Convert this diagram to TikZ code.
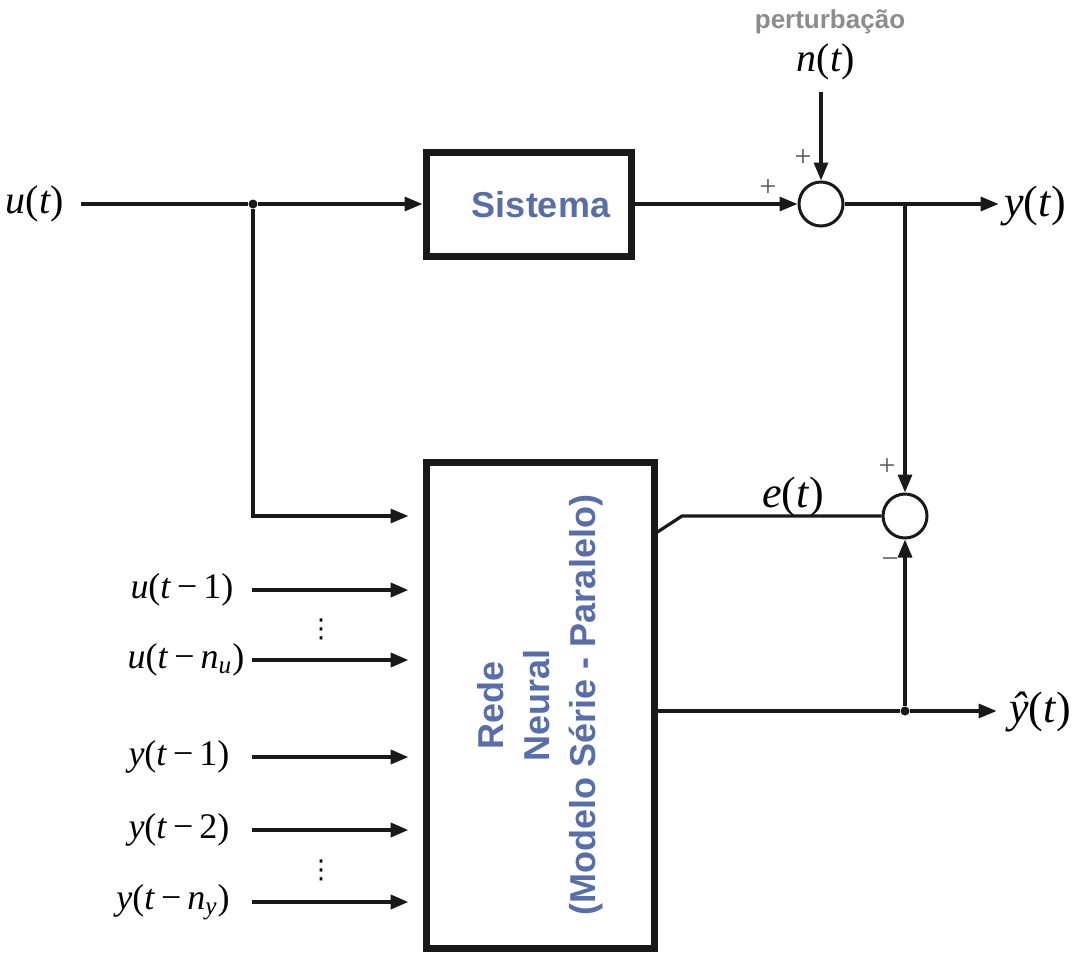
\documentclass[tikz,border=0pt]{standalone}
\usepackage{fontspec}
\setmainfont{Liberation Serif}
\newfontfamily\arial{Liberation Sans}
\newfontfamily\dejavu{DejaVu Sans}
\usetikzlibrary{arrows.meta,calc}
\definecolor{blk}{RGB}{25,25,25}
\definecolor{bluetxt}{RGB}{88,110,170}
\definecolor{graytxt}{RGB}{140,140,140}
\tikzset{
  wire/.style={line width=1.6pt, draw=blk},
  arr/.style={wire, -{Triangle[length=9pt,width=7pt]}},
  inarr/.style={arr, line width=2pt},
  blockbox/.style={draw=blk, line width=3.5pt, inner sep=0pt, fill=white},
  sumnode/.style={circle, draw=blk, line width=1.5pt, minimum size=22pt, inner sep=0pt},
  jdot/.style={circle, fill=blk, minimum size=4.5pt, inner sep=0pt},
  lblA/.style={font=\fontsize{18}{20}\selectfont, inner sep=0pt},
  lblB/.style={font=\fontsize{20}{22}\selectfont, inner sep=0pt},
  lblC/.style={font=\fontsize{22}{24}\selectfont, inner sep=0pt},
  sign/.style={font=\fontsize{15}{16}\selectfont, text=blk!75, inner sep=0pt},
  vdts/.style={font=\dejavu\fontsize{13}{14}\selectfont, inner sep=0pt},
  bluelbl/.style={text=bluetxt, font=\arial\bfseries\fontsize{18}{23}\selectfont},
}
\begin{document}
\begin{tikzpicture}[x=0.5pt,y=-0.5pt]
\useasboundingbox (0,0) rectangle (1080,953);

% blocks
\node[blockbox, minimum width=102.5pt, minimum height=52pt] (sys) at (528.5,204) {};
\node[bluelbl] (systxt) at (541,205) {Sistema};
\node[blockbox, minimum width=114pt, minimum height=243pt] (nn) at (540,705) {};
\node[bluelbl, rotate=90, align=center] (nntxt) at (nn.center) {Rede\\Neural\\(Modelo Série - Paralelo)};

% summing junctions
\node[sumnode] (s1) at (821,204) {};
\node[sumnode] (s2) at (905,516) {};

% labels
\node[lblB] (ut) at (35,204) {\textit{u}(\textit{t})};
\node[font=\arial\bfseries\fontsize{13}{15}\selectfont, text=graytxt] (pert) at (830,22) {perturbação};
\node[lblB] (nt) at (826,62) {\textit{n}(\textit{t})};
\node[lblC] (yt) at (1035,206) {\textit{y}(\textit{t})};
\node[lblC] (et) at (793,497) {\textit{e}(\textit{t})};
\node[lblC] (yhat) at (1040,712) {\textit{ŷ}(\textit{t})};

\node[sign] (p1) at (803,158) {+};
\node[sign] (p2) at (768,188) {+};
\node[sign] (p3) at (887,467) {+};
\node[sign] (m1) at (890,563) {−};

% input labels
\node[lblA] (l1) at (182,590) {\textit{u}(\textit{t}\,−\,1)};
\node[lblA] (l2) at (186,660) {\textit{u}(\textit{t}\,−\,\textit{n}\textsubscript{\textit{u}})};
\node[lblA] (l3) at (179,757) {\textit{y}(\textit{t}\,−\,1)};
\node[lblA] (l4) at (179,830) {\textit{y}(\textit{t}\,−\,2)};
\node[lblA] (l5) at (173,902) {\textit{y}(\textit{t}\,−\,\textit{n}\textsubscript{\textit{y}})};
\node[vdts] (d1) at (321,629) {⋮};
\node[vdts] (d2) at (321,870) {⋮};

% coordinates
\node[jdot] (j1) at (253,204) {};
\node[jdot] (j2) at (905,711) {};
\coordinate (ntop) at (821,92);
\coordinate (ebend) at (682,516);
\coordinate (a0) at (253,516);
\coordinate (a1) at (252,590);
\coordinate (a2) at (252,660);
\coordinate (a3) at (252,757);
\coordinate (a4) at (252,830);
\coordinate (a5) at (252,902);

% connectors
\draw[wire] ([xshift=8pt]ut.east) -- (j1);
\draw[arr] (j1) -- (sys.west);
\draw[arr, shorten >=7pt] (j1) |- (a0 -| nn.west);
\foreach \i in {1,...,5}{
  \draw[inarr, shorten >=7pt] (a\i) -- (a\i -| nn.west);
}
\draw[arr] (sys.east) -- (s1.west);
\draw[arr] (ntop) -- (s1.north);
\draw[arr, shorten >=2.5pt] (s1.east) -- (s1.east -| yt.west);
\draw[arr] (s1.east -| s2.north) -- (s2.north);
\draw[wire] ([yshift=86.5pt]nn.east) -- (ebend) -- (s2.west);
\draw[wire] ([yshift=-3pt]nn.east) -- (j2);
\draw[arr] (j2) -- (s2.south);
\draw[arr, shorten >=6pt] (j2) -- (j2 -| yhat.west);
\end{tikzpicture}
\end{document}
